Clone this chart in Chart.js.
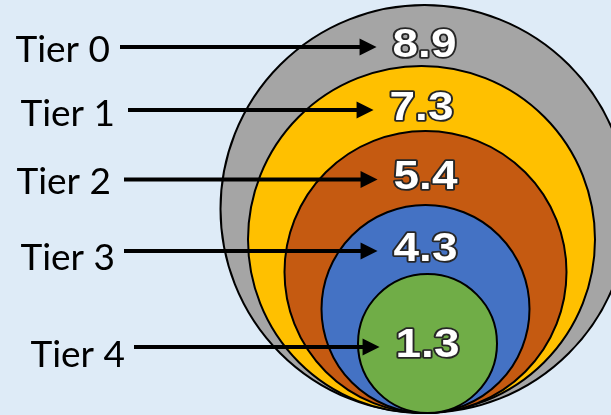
<!DOCTYPE html>
<html>
<head>
<meta charset="utf-8">
<script src="https://cdn.jsdelivr.net/npm/chart.js@4.4.1/dist/chart.umd.min.js"></script>
<style>
  html, body { margin: 0; padding: 0; background: #deebf7; }
  canvas { display: block; }
</style>
</head>
<body>
<canvas id="tiers" width="611" height="415"></canvas>
<script>
const tierLabels = ["Tier 0", "Tier 1", "Tier 2", "Tier 3", "Tier 4"];
const tierValues = [8.9, 7.3, 5.4, 4.3, 1.3];
// circle radius and centre of each tier (axis units)
const tierRadii = [20.4, 17.35, 14.1, 10.4, 6.95];
const tierCenters = [42.45, 42.15, 42.55, 42.55, 42.75];

const tierCallouts = {
  id: "tierCallouts",
  afterDatasetsDraw(chart, args, opts) {
    const { ctx } = chart;
    const x = chart.scales.x;
    const y = chart.scales.y;
    const last = tierRadii.length - 1;
    const stretch = 1.12;

    ctx.save();
    tierRadii.forEach((r, i) => {
      const cx = x.getPixelForValue(tierCenters[i]);
      // value text sits in the band between this circle's top and the next one
      let textY;
      if (i < last) {
        const top = y.getPixelForValue(2 * r);
        const nextTop = y.getPixelForValue(2 * tierRadii[i + 1]);
        textY = (top + nextTop) / 2 + 6.5;
      } else {
        textY = y.getPixelForValue(r) - 1.5;
      }
      const arrowY = textY + 5;

      // value, white with a dark outline, a little wide like the original
      ctx.font = "bold 41px 'Liberation Sans'";
      ctx.textAlign = "center";
      ctx.textBaseline = "alphabetic";
      const txt = tierValues[i].toFixed(1);
      const w = ctx.measureText(txt).width * stretch;
      ctx.save();
      ctx.translate(cx, textY + 14.6);
      ctx.scale(stretch, 1);
      ctx.lineJoin = "round";
      ctx.lineWidth = 3.5;
      ctx.strokeStyle = "#262626";
      ctx.strokeText(txt, 0, 0);
      ctx.fillStyle = "#ffffff";
      ctx.fillText(txt, 0, 0);
      ctx.restore();

      // arrow from the tier name to the value
      const tipX = cx - w / 2 - 16;
      ctx.strokeStyle = "#000";
      ctx.lineWidth = 4;
      ctx.beginPath();
      ctx.moveTo(opts.lineStart[i], arrowY);
      ctx.lineTo(tipX - 14, arrowY);
      ctx.stroke();
      ctx.fillStyle = "#000";
      ctx.beginPath();
      ctx.moveTo(tipX, arrowY);
      ctx.lineTo(tipX - 17, arrowY - 8.5);
      ctx.lineTo(tipX - 17, arrowY + 8.5);
      ctx.closePath();
      ctx.fill();

      ctx.font = "37px Lato";
      ctx.textAlign = "right";
      ctx.fillText(tierLabels[i], opts.labelRight[i], arrowY + opts.labelDrop[i]);
    });
    ctx.restore();
  }
};

new Chart(document.getElementById("tiers"), {
  type: "scatter",
  data: {
    datasets: [{
      data: tierRadii.map((r, i) => ({ x: tierCenters[i], y: r })),
      backgroundColor: ["#a5a5a5", "#ffc000", "#c55a11", "#4472c4", "#70ad47"],
      borderColor: "#000",
      borderWidth: 2,
      pointRadius: (c) => {
        const ys = c.chart.scales.y;
        return ys.getPixelForValue(0) - ys.getPixelForValue(tierRadii[c.dataIndex]);
      },
      showLine: false,
      clip: false,
    }],
  },
  options: {
    responsive: false,
    animation: false,
    events: [],
    devicePixelRatio: 1,
    layout: { padding: 0 },
    scales: {
      x: { type: "linear", min: 0, max: 61.1, display: false },
      y: { type: "linear", min: -0.2, max: 41.3, display: false },
    },
    plugins: {
      legend: { display: false },
      tooltip: { enabled: false },
      tierCallouts: {
        labelRight: [110, 115, 111, 115, 125],
        lineStart: [120, 128, 124, 124, 134],
        labelDrop: [15, 16, 14, 19, 20],
      },
    },
  },
  plugins: [tierCallouts],
});
</script>
</body>
</html>
